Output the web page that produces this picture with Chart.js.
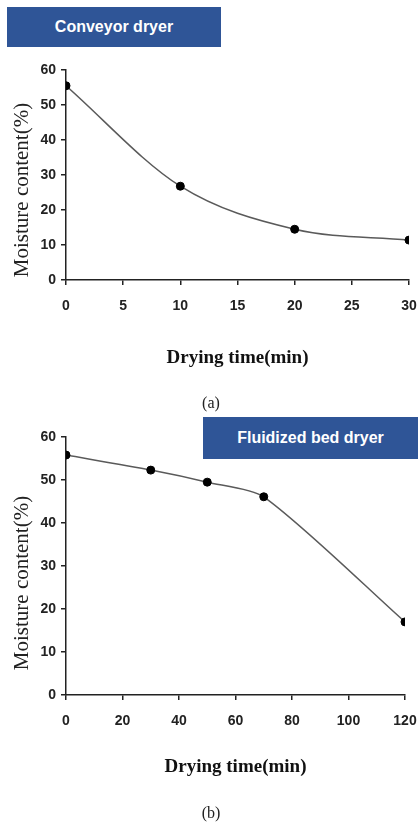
<!DOCTYPE html>
<html>
<head>
<meta charset="utf-8">
<script src="https://cdn.jsdelivr.net/npm/chart.js@4.4.0/dist/chart.umd.min.js"></script>
<style>
	body { margin:0; background:#fff; width:418px; height:824px; position:relative; overflow:hidden; }
	.panel { position:absolute; left:0; }
	.banner { position:absolute; background:#2f5597; color:#fff; font:bold 16px "Liberation Sans", Arial, sans-serif; display:flex; align-items:center; justify-content:center; }
	.caption { position:absolute; font:16px "Liberation Serif", serif; color:#222; transform:translate(-50%,-50%); }
</style>
</head>
<body>
<div class="panel" style="top:50px"><canvas id="chart-a" width="418" height="350"></canvas></div>
<div class="panel" style="top:420px"><canvas id="chart-b" width="418" height="380"></canvas></div>
<div class="banner" style="left:7px;top:7px;width:214px;height:40px">Conveyor dryer</div>
<div class="banner" style="left:203px;top:417px;width:215px;height:42px">Fluidized bed dryer</div>
<div class="caption" style="left:211px;top:403px">(a)</div>
<div class="caption" style="left:211px;top:813px">(b)</div>
<script>
var conveyorTime = [0, 10, 20, 30];
var conveyorMoisture = [55.5, 26.8, 14.5, 11.4];
var fluidTime = [0, 30, 50, 70, 120];
var fluidMoisture = [55.8, 52.3, 49.5, 46.1, 17.0];
var moistureTicks = [0, 10, 20, 30, 40, 50, 60];
var conveyorTicks = [0, 5, 10, 15, 20, 25, 30];
var fluidTicks = [0, 20, 40, 60, 80, 100, 120];

var tickFont = { family: '"Liberation Sans", Arial, sans-serif', size: 14, weight: 'bold' };

// rotated y title drawn by hand so it can sit a bit below the axis middle
var sideTitle = {
	id: 'sideTitle',
	afterDraw: function(chart, args, opts) {
		var ctx = chart.ctx;
		ctx.save();
		ctx.translate(opts.x, opts.y);
		ctx.rotate(-Math.PI / 2);
		ctx.font = '21px "Liberation Serif", serif';
		ctx.fillStyle = '#222';
		ctx.textAlign = 'center';
		ctx.textBaseline = 'middle';
		ctx.fillText(opts.text, 0, 0);
		ctx.restore();
	}
};

function points(xs, ys) {
	var out = [];
	for (var i = 0; i < xs.length; i++) out.push({ x: xs[i], y: ys[i] });
	return out;
}

function make_chart(id, xs, ys, xTicks, curve, pad, xHeight, titlePad, yTitleY) {
	var axisStyle = {
		border: { color: '#222', width: 1.5 },
		grid: { drawOnChartArea: false, color: '#222', tickLength: 5, lineWidth: 1.5 }
	};
	var ds = {
		data: points(xs, ys),
		borderColor: '#5a5a5a',
		borderWidth: 1.5,
		pointRadius: 4,
		pointBackgroundColor: '#000',
		pointBorderColor: '#000',
		pointBorderWidth: 1
	};
	if (curve === 'monotone') ds.cubicInterpolationMode = 'monotone';
	else ds.tension = curve;
	return new Chart(document.getElementById(id), {
		type: 'line',
		data: { datasets: [ds] },
		options: {
			responsive: false,
			animation: false,
			devicePixelRatio: 1,
			layout: { padding: pad },
			plugins: {
				legend: { display: false },
				tooltip: { enabled: false },
				sideTitle: { text: 'Moisture content(%)', x: 22, y: yTitleY }
			},
			scales: {
				x: {
					type: 'linear',
					min: xTicks[0],
					max: xTicks[xTicks.length - 1],
					afterBuildTicks: function(s) { s.ticks = xTicks.map(function(v){ return { value: v }; }); },
					afterFit: function(s) { s.height = xHeight; s.paddingLeft = 0; s.paddingRight = 0; },
					ticks: { font: tickFont, color: '#222', padding: 13, maxRotation: 0 },
					title: { display: true, text: 'Drying time(min)', color: '#111',
						font: { family: '"Liberation Serif", serif', size: 19, weight: 'bold' },
						padding: { top: 0, bottom: titlePad } },
					border: axisStyle.border,
					grid: axisStyle.grid
				},
				y: {
					min: 0,
					max: 60,
					afterBuildTicks: function(s) { s.ticks = moistureTicks.map(function(v){ return { value: v }; }); },
					afterFit: function(s) { s.width = 66; s.paddingTop = 0; s.paddingBottom = 0; },
					ticks: { font: tickFont, color: '#222', padding: 5 },
					border: axisStyle.border,
					grid: axisStyle.grid
				}
			}
		},
		plugins: [sideTitle]
	});
}

make_chart('chart-a', conveyorTime, conveyorMoisture, conveyorTicks, 'monotone',
	{ left: 0, right: 9, top: 20, bottom: 0 }, 120, 31, 140);
make_chart('chart-b', fluidTime, fluidMoisture, fluidTicks, 0.25,
	{ left: 0, right: 13, top: 17, bottom: 0 }, 105, 22, 163);
</script>
</body>
</html>
